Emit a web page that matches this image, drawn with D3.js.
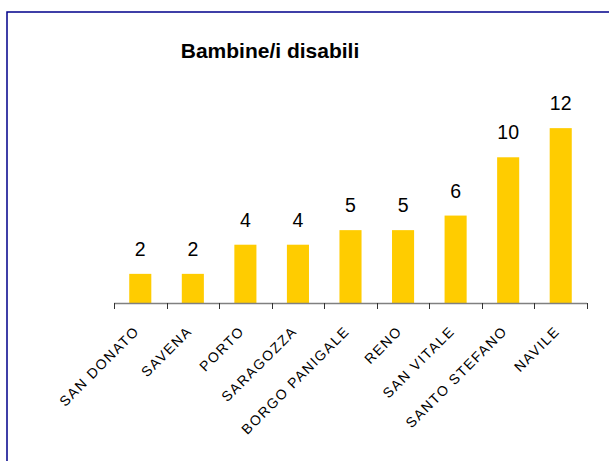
<!DOCTYPE html>
<html><head><meta charset="utf-8">
<script src="https://cdn.jsdelivr.net/npm/d3@7"></script>
<style>html,body{margin:0;padding:0;background:#fff;overflow:hidden}</style>
</head><body>
<script>
const categories = ["SAN DONATO","SAVENA","PORTO","SARAGOZZA","BORGO PANIGALE","RENO","SAN VITALE","SANTO STEFANO","NAVILE"];
const values = [2,2,4,4,5,5,6,10,12];
const title = "Bambine/i disabili";

const W = 609, H = 461;
const svg = d3.select("body").append("svg").attr("width", W).attr("height", H);
svg.append("rect").attr("x",0).attr("y",0).attr("width",W).attr("height",H).attr("fill","#fff");
svg.append("rect").attr("x",7).attr("y",12).attr("width",W+20).attr("height",H+20)
  .attr("fill","none").attr("stroke","#00008b").attr("stroke-width",1.5);

const x = d3.scaleBand().domain(categories).range([114,587]).paddingInner(0.58).paddingOuter(0.29);
const y = d3.scaleLinear().domain([0,14]).range([303,99]);

svg.append("text").attr("x",270).attr("y",58).attr("text-anchor","middle")
  .attr("font-family","Liberation Sans, Arial, sans-serif").attr("font-weight","bold")
  .attr("font-size",21).attr("fill","#000").text(title);

svg.selectAll("rect.bar").data(values).enter().append("rect").attr("class","bar")
  .attr("x",(d,i)=>x(categories[i])).attr("width",x.bandwidth())
  .attr("y",d=>y(d)).attr("height",d=>y(0)-y(d)).attr("fill","#ffcc00");

svg.selectAll("text.val").data(values).enter().append("text").attr("class","val")
  .attr("x",(d,i)=>x(categories[i])+x.bandwidth()/2).attr("y",d=>y(d)-18)
  .attr("text-anchor","middle").attr("font-family","Liberation Sans, Arial, sans-serif")
  .attr("font-size",19.5).attr("fill","#000").text(d=>d);

// axis
const ax = svg.append("g");
ax.append("line").attr("x1",114).attr("x2",587).attr("y1",303.5).attr("y2",303.5)
  .attr("stroke","#808080").attr("stroke-width",1.5);
const edges = categories.map(c=>x(c)-x.step()*x.paddingInner()/2).concat([587]);
edges[0]=114;
ax.selectAll("line.tick").data(edges).enter().append("line").attr("class","tick")
  .attr("x1",d=>Math.round(d)+0.5).attr("x2",d=>Math.round(d)+0.5).attr("y1",303).attr("y2",309)
  .attr("stroke","#333").attr("stroke-width",1);

svg.selectAll("text.cat").data(categories).enter().append("text").attr("class","cat")
  .attr("transform",d=>`translate(${x(d)+x.bandwidth()/2},332) rotate(-45)`)
  .attr("text-anchor","end").attr("font-family","Liberation Sans, Arial, sans-serif")
  .attr("font-size",14).attr("letter-spacing","1.5px").attr("fill","#000").text(d=>d);
</script>
</body></html>
